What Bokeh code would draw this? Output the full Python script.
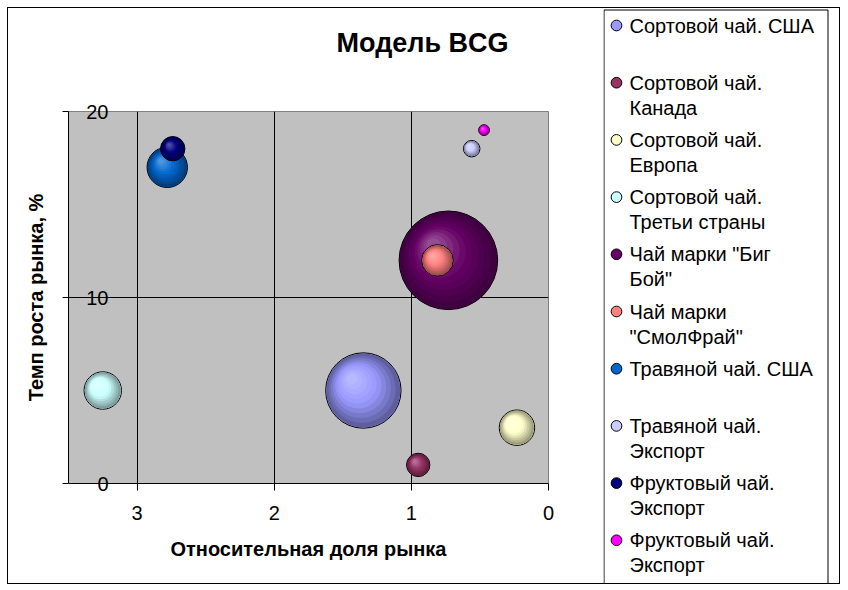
import math
from bokeh.plotting import figure
from bokeh.models import Range1d, FixedTicker, ColumnDataSource, Title, Plot
from bokeh.layouts import row, column
from bokeh.embed import file_html
from bokeh.resources import INLINE
from bokeh.core.properties import value

# ---------------- data ----------------
series_names = [
    "Сортовой чай. США",
    "Сортовой чай.\nКанада",
    "Сортовой чай.\nЕвропа",
    "Сортовой чай.\nТретьи страны",
    "Чай марки \"Биг\nБой\"",
    "Чай марки\n\"СмолФрай\"",
    "Травяной чай. США",
    "Травяной чай.\nЭкспорт",
    "Фруктовый чай.\nЭкспорт",
    "Фруктовый чай.\nЭкспорт",
]
market_share = [1.35, 0.95, 0.23, 3.25, 0.73, 0.81, 2.78, 0.56, 2.74, 0.47]
market_growth = [5, 1, 3, 5, 12, 12, 17, 18, 18, 19]
sales_volume = [58.5, 5.6, 12.9, 14.4, 100, 10.1, 16.8, 2.8, 6.1, 1.2]
series_colors = ["#9999FF", "#993366", "#FFFFCC", "#CCFFFF", "#660066",
                 "#FF8080", "#0066CC", "#CCCCFF", "#000080", "#FF00FF"]
x_ticks = [0, 1, 2, 3]
y_ticks = [0, 10, 20]
title_text = "Модель BCG"
x_title = "Относительная доля рынка"
y_title = "Темп роста рынка, %"

# ---------------- layout constants ----------------
FONT = "Liberation Sans"
WA, H, WB = 595, 575, 236
ML, MT = 60, 103
FRAME_W, FRAME_H = 480, 372
MR = WA - ML - FRAME_W
MB = H - MT - FRAME_H
X0, X1 = 3.5, 0.0
Y0, Y1 = 0.0, 20.0
PX_X = FRAME_W / (X0 - X1)
PX_Y = FRAME_H / (Y1 - Y0)
R_MAX = 49.3
N_LAYERS = 10
HAS_FRAME_ALIGN = "frame_align" in Plot.properties()


def hex_to_rgb(h):
    h = h.lstrip("#")
    return [int(h[i:i + 2], 16) for i in (0, 2, 4)]


def rgb_to_hex(c):
    return "#%02x%02x%02x" % tuple(max(0, min(255, int(round(v)))) for v in c)


def lerp(a, b, t):
    return [a[i] + (b[i] - a[i]) * t for i in range(3)]


def shade(base_hex, t):
    base = hex_to_rgb(base_hex)
    dark = [v * 0.62 for v in base]
    light = lerp(base, [255, 255, 255], 0.3)
    if t < 0.5:
        return rgb_to_hex(lerp(dark, base, t / 0.5))
    return rgb_to_hex(lerp(base, light, (t - 0.5) / 0.5))


extra = {"frame_align": False} if HAS_FRAME_ALIGN else {}

# ---------------- chart ----------------
p = figure(width=WA, height=H, output_backend="svg", toolbar_location=None,
           x_range=Range1d(X0, X1), y_range=Range1d(Y0, Y1),
           min_border_left=ML, min_border_right=MR,
           min_border_top=MT, min_border_bottom=MB, **extra)
p.background_fill_color = "#C0C0C0"
p.border_fill_color = "white"
p.outline_line_color = "#808080"
p.outline_line_width = 1

# spacer (nearest the frame) and the chart title above it
p.add_layout(Title(text=" ", standoff=40, text_font=FONT, text_font_size="10px",
                   text_color="white"), "above")
p.add_layout(Title(text=title_text, align="left", offset=268, vertical_align="middle",
                   standoff=0, text_font=FONT, text_font_size="27px",
                   text_font_style="bold", text_color="black"), "above")

p.xgrid.ticker = FixedTicker(ticks=[t for t in x_ticks if t not in (X0, X1)])
p.ygrid.ticker = FixedTicker(ticks=[t for t in y_ticks if t not in (Y0, Y1)])
p.grid.grid_line_color = "black"
p.grid.grid_line_width = 1

xa = p.xaxis[0]
xa.ticker = FixedTicker(ticks=x_ticks)
xa.axis_line_color = "black"
xa.major_tick_line_color = "black"
xa.major_tick_out = 7
xa.major_tick_in = 0
xa.minor_tick_line_color = None
xa.major_label_text_font = FONT
xa.major_label_text_font_size = "20px"
xa.major_label_text_color = "black"
xa.major_label_standoff = 15
xa.axis_label = x_title
xa.axis_label_text_font = FONT
xa.axis_label_text_font_size = "20px"
xa.axis_label_text_font_style = "bold"
xa.axis_label_text_color = "black"
xa.axis_label_standoff = 15

ya = p.yaxis[0]
ya.ticker = FixedTicker(ticks=y_ticks)
ya.axis_line_color = "black"
ya.major_tick_line_color = "black"
ya.major_tick_out = 6
ya.major_tick_in = 0
ya.minor_tick_line_color = None
ya.major_label_text_font = FONT
ya.major_label_text_font_size = "20px"
ya.major_label_text_color = "black"
ya.major_label_standoff = -46
ya.axis_label = y_title
ya.axis_label_text_font = FONT
ya.axis_label_text_font_size = "20px"
ya.axis_label_text_font_style = "bold"
ya.axis_label_text_color = "black"
ya.axis_label_standoff = 36

# bubbles: base disc + shaded layers for the 3D look
vmax = max(sales_volume)
for i in range(len(series_names)):
    r = R_MAX * math.sqrt(sales_volume[i] / vmax)
    p.scatter(x=[market_share[i]], y=[market_growth[i]], size=2 * r, marker="circle",
              fill_color=series_colors[i], line_color="black", line_width=1)
    xs, ys, ss, cs = [], [], [], []
    for k in range(N_LAYERS):
        t = k / (N_LAYERS - 1)
        rk = (r - 0.6) * (1 - 0.85 * t)
        off = 0.3 * r * t
        xs.append(market_share[i] + off / PX_X)
        ys.append(market_growth[i] + off / PX_Y)
        ss.append(2 * rk)
        cs.append(shade(series_colors[i], t))
    src = ColumnDataSource(dict(x=xs, y=ys, s=ss, c=cs))
    p.scatter(x="x", y="y", size="s", marker="circle", source=src,
              fill_color="c", line_color=None)

# ---------------- legend panel ----------------
pb = figure(width=WB, height=H, output_backend="svg", toolbar_location=None,
            x_range=Range1d(0, WB), y_range=Range1d(H, 0), min_border=0,
            x_axis_location=None, y_axis_location=None, **extra)
pb.grid.visible = False
pb.outline_line_color = None
pb.background_fill_color = "white"
pb.border_fill_color = "white"

ROW0, ROW_STEP, LINE_STEP = 17, 57.2, 25
MARK_X, TEXT_X = 13, 26
rows_y = [ROW0 + ROW_STEP * i for i in range(len(series_names))]
line1 = [n.split("\n")[0] for n in series_names]
line2 = [n.split("\n")[1] if "\n" in n else "" for n in series_names]

pb.quad(left=[0.5], right=[224.5], top=[1.5], bottom=[H + 5],
        fill_color=None, line_color="black", line_width=1)
pb.scatter(x=[MARK_X] * len(rows_y), y=rows_y, size=10.7, marker="circle",
           fill_color=series_colors, line_color="black", line_width=1)
pb.text(x=[TEXT_X] * len(rows_y), y=rows_y, text=line1, text_font=value(FONT),
        text_font_size="20px", text_color="black", text_align="left", text_baseline="middle")
pb.text(x=[TEXT_X] * len(rows_y), y=[y + LINE_STEP for y in rows_y], text=line2,
        text_font=value(FONT), text_font_size="20px", text_color="black",
        text_align="left", text_baseline="middle")

right = pb if HAS_FRAME_ALIGN else column(pb)
layout = row(p, right, margin=(8, 0, 0, 8), styles={"outline": "1px solid black"})
open("out.html", "w").write(file_html(layout, INLINE))
